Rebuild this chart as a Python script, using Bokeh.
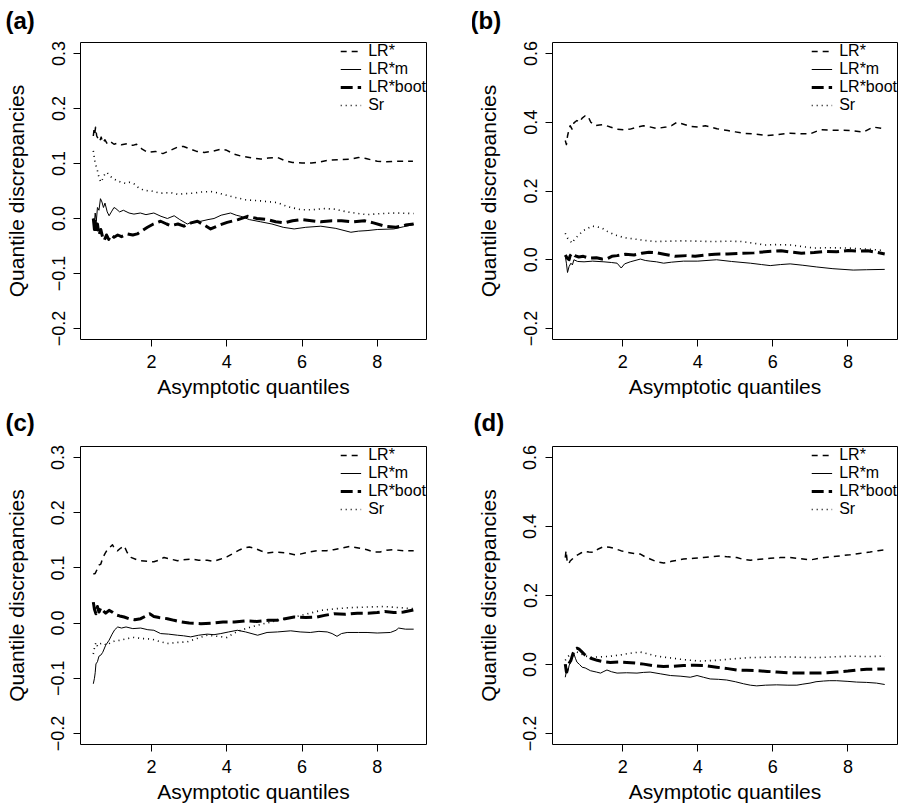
from bokeh.plotting import figure
from bokeh.models import FixedTicker, Legend, LegendItem, Range1d
from bokeh.layouts import column, row
from bokeh.embed import file_html
from bokeh.resources import INLINE

FONT = "Liberation Sans"

SERIES_NAMES = ["LR*", "LR*m", "LR*boot", "Sr"]
X_TICKS = [2, 4, 6, 8]
X_LABEL = "Asymptotic quantiles"
Y_LABEL = "Quantile discrepancies"
PANEL_LETTERS = ["(a)", "(b)", "(c)", "(d)"]

Y_TICKS_AC = [-0.2, -0.1, 0.0, 0.1, 0.2, 0.3]
Y_TICKLABELS_AC = ["\u22120.2", "\u22120.1", "0.0", "0.1", "0.2", "0.3"]
Y_LIM_AC = (-0.2, 0.3)
Y_TICKS_BD = [-0.2, 0.0, 0.2, 0.4, 0.6]
Y_TICKLABELS_BD = ["\u22120.2", "0.0", "0.2", "0.4", "0.6"]
Y_LIM_BD = (-0.2, 0.6)

# ---- panel (a) ----
A_LRSTAR = [(0.45,0.150),(0.47,0.162),(0.49,0.155),(0.51,0.166),(0.54,0.150),(0.58,0.145),(0.62,0.140),(0.66,0.148),(0.70,0.138),(0.76,0.143),(0.82,0.136),(0.90,0.140),(1.00,0.135),(1.10,0.137),(1.20,0.134),(1.35,0.136),(1.50,0.133),(1.60,0.135),(1.75,0.126),(1.90,0.120),(2.10,0.122),(2.30,0.118),(2.50,0.124),(2.70,0.130),(2.85,0.131),(3.00,0.127),(3.20,0.122),(3.40,0.120),(3.60,0.122),(3.85,0.126),(4.00,0.124),(4.20,0.117),(4.40,0.113),(4.60,0.111),(4.90,0.108),(5.10,0.110),(5.35,0.111),(5.55,0.105),(5.75,0.102),(6.00,0.101),(6.25,0.101),(6.50,0.103),(6.70,0.106),(7.00,0.107),(7.30,0.108),(7.50,0.111),(7.70,0.109),(8.00,0.104),(8.20,0.103),(8.50,0.104),(8.80,0.104),(8.95,0.104)]
A_LRM = [(0.45,0.000),(0.47,-0.015),(0.50,0.010),(0.53,-0.005),(0.56,0.020),(0.60,0.015),(0.64,0.036),(0.68,0.030),(0.72,0.020),(0.76,0.028),(0.82,0.012),(0.87,0.005),(0.93,0.012),(1.00,0.020),(1.05,0.018),(1.15,0.012),(1.25,0.015),(1.40,0.010),(1.53,0.008),(1.70,0.010),(1.85,0.007),(2.06,0.010),(2.25,0.004),(2.42,0.000),(2.60,0.005),(2.75,-0.002),(2.95,-0.010),(3.10,-0.006),(3.31,-0.005),(3.50,-0.002),(3.66,0.000),(3.85,0.006),(4.10,0.010),(4.25,0.006),(4.37,0.004),(4.60,-0.002),(4.90,-0.006),(5.20,-0.010),(5.50,-0.016),(5.79,-0.019),(6.10,-0.016),(6.50,-0.014),(6.90,-0.018),(7.30,-0.025),(7.50,-0.023),(7.73,-0.022),(8.00,-0.020),(8.44,-0.019),(8.70,-0.015),(8.97,-0.011)]
A_LRBOOT = [(0.45,0.000),(0.48,-0.020),(0.50,-0.005),(0.53,-0.025),(0.56,-0.010),(0.60,-0.030),(0.65,-0.020),(0.70,-0.035),(0.74,-0.040),(0.80,-0.030),(0.86,-0.038),(0.92,-0.030),(1.00,-0.034),(1.10,-0.030),(1.20,-0.033),(1.36,-0.028),(1.50,-0.030),(1.62,-0.028),(1.75,-0.022),(1.89,-0.016),(2.05,-0.010),(2.24,-0.005),(2.40,-0.010),(2.51,-0.013),(2.70,-0.010),(2.86,-0.014),(3.05,-0.008),(3.22,-0.005),(3.40,-0.012),(3.57,-0.019),(3.80,-0.012),(4.01,-0.007),(4.30,-0.002),(4.55,0.004),(4.80,0.000),(5.08,-0.002),(5.30,-0.006),(5.52,-0.008),(5.75,-0.004),(5.97,-0.002),(6.25,-0.004),(6.50,-0.006),(6.80,-0.004),(7.05,-0.004),(7.35,-0.006),(7.66,-0.004),(7.90,-0.008),(8.20,-0.014),(8.50,-0.016),(8.75,-0.012),(8.97,-0.010)]
A_SR = [(0.45,0.123),(0.50,0.100),(0.55,0.090),(0.60,0.075),(0.65,0.066),(0.70,0.072),(0.75,0.080),(0.81,0.084),(0.88,0.078),(0.95,0.074),(1.05,0.070),(1.18,0.066),(1.30,0.064),(1.40,0.066),(1.53,0.063),(1.65,0.056),(1.80,0.051),(2.00,0.050),(2.24,0.046),(2.50,0.047),(2.70,0.044),(2.85,0.045),(3.10,0.046),(3.30,0.048),(3.57,0.049),(3.80,0.046),(4.00,0.042),(4.18,0.039),(4.50,0.034),(4.90,0.032),(5.34,0.029),(5.60,0.022),(5.96,0.016),(6.30,0.016),(6.60,0.018),(6.85,0.017),(7.20,0.012),(7.50,0.009),(7.73,0.007),(8.10,0.009),(8.50,0.010),(8.97,0.009)]

# ---- panel (b) ----
B_LRSTAR = [(0.47,0.347),(0.50,0.335),(0.53,0.360),(0.56,0.375),(0.60,0.390),(0.65,0.380),(0.70,0.398),(0.78,0.405),(0.85,0.400),(0.92,0.412),(1.00,0.419),(1.05,0.420),(1.09,0.414),(1.15,0.400),(1.27,0.390),(1.38,0.392),(1.49,0.393),(1.67,0.386),(1.85,0.380),(2.02,0.378),(2.20,0.380),(2.40,0.386),(2.55,0.390),(2.70,0.387),(2.91,0.382),(3.15,0.386),(3.30,0.390),(3.44,0.400),(3.60,0.395),(3.80,0.388),(4.00,0.386),(4.20,0.390),(4.51,0.381),(4.80,0.376),(5.00,0.372),(5.22,0.368),(5.50,0.366),(5.84,0.361),(6.10,0.364),(6.46,0.368),(6.70,0.367),(6.99,0.366),(7.26,0.378),(7.60,0.377),(8.05,0.376),(8.41,0.371),(8.67,0.386),(8.98,0.381)]
B_LRM = [(0.47,0.010),(0.50,-0.010),(0.53,-0.037),(0.57,-0.020),(0.62,-0.010),(0.66,-0.015),(0.70,0.000),(0.80,-0.005),(0.97,-0.006),(1.20,-0.004),(1.50,-0.006),(1.70,-0.008),(1.85,-0.010),(1.96,-0.024),(2.05,-0.012),(2.20,-0.006),(2.47,0.002),(2.60,-0.002),(2.73,-0.004),(2.90,-0.006),(3.09,-0.010),(3.30,-0.007),(3.62,-0.004),(4.00,-0.004),(4.50,0.000),(4.90,-0.005),(5.40,-0.010),(5.70,-0.014),(5.93,-0.017),(6.20,-0.014),(6.46,-0.012),(6.80,-0.016),(7.17,-0.021),(7.60,-0.026),(8.14,-0.030),(8.50,-0.029),(8.98,-0.028)]
B_LRBOOT = [(0.47,0.014),(0.52,0.005),(0.57,0.000),(0.60,0.012),(0.65,0.019),(0.72,0.012),(0.83,0.008),(0.95,0.010),(1.10,0.005),(1.30,0.006),(1.45,0.002),(1.60,0.004),(1.71,0.010),(1.85,0.012),(2.07,0.016),(2.30,0.014),(2.51,0.019),(2.70,0.022),(2.86,0.021),(3.10,0.016),(3.40,0.010),(3.70,0.012),(3.93,0.010),(4.20,0.014),(4.46,0.016),(4.80,0.017),(5.16,0.019),(5.50,0.020),(5.87,0.024),(6.22,0.026),(6.50,0.022),(6.76,0.019),(7.10,0.021),(7.38,0.024),(7.70,0.023),(8.00,0.027),(8.30,0.025),(8.53,0.026),(8.75,0.022),(8.98,0.017)]
B_SR = [(0.47,0.077),(0.53,0.063),(0.60,0.055),(0.65,0.048),(0.72,0.060),(0.83,0.072),(0.95,0.085),(1.05,0.090),(1.18,0.098),(1.30,0.096),(1.45,0.092),(1.60,0.082),(1.80,0.072),(2.05,0.064),(2.33,0.060),(2.60,0.056),(2.86,0.053),(3.20,0.054),(3.57,0.055),(4.00,0.054),(4.45,0.053),(4.80,0.054),(5.16,0.053),(5.50,0.048),(5.78,0.043),(6.10,0.044),(6.49,0.043),(6.80,0.038),(7.11,0.034),(7.50,0.035),(8.00,0.034),(8.50,0.031),(8.97,0.027)]

# ---- panel (c) ----
C_LRSTAR = [(0.45,0.089),(0.50,0.090),(0.55,0.097),(0.60,0.105),(0.65,0.107),(0.70,0.118),(0.76,0.126),(0.83,0.134),(0.90,0.138),(0.96,0.142),(1.02,0.134),(1.09,0.131),(1.18,0.136),(1.27,0.140),(1.35,0.128),(1.45,0.119),(1.60,0.115),(1.71,0.113),(1.90,0.112),(2.06,0.111),(2.20,0.114),(2.33,0.119),(2.50,0.116),(2.69,0.113),(2.85,0.115),(3.04,0.116),(3.25,0.114),(3.48,0.114),(3.65,0.112),(3.84,0.116),(4.00,0.120),(4.19,0.127),(4.35,0.133),(4.46,0.136),(4.60,0.138),(4.72,0.136),(4.90,0.131),(5.07,0.127),(5.30,0.129),(5.60,0.127),(5.80,0.124),(5.95,0.125),(6.20,0.129),(6.40,0.131),(6.65,0.131),(6.84,0.133),(7.05,0.136),(7.28,0.139),(7.50,0.136),(7.73,0.133),(7.90,0.129),(8.08,0.129),(8.25,0.132),(8.43,0.133),(8.70,0.131),(8.97,0.131)]
C_LRM = [(0.45,-0.110),(0.48,-0.100),(0.50,-0.090),(0.52,-0.074),(0.56,-0.070),(0.60,-0.060),(0.65,-0.058),(0.70,-0.053),(0.78,-0.040),(0.87,-0.031),(0.95,-0.020),(1.02,-0.012),(1.10,-0.007),(1.20,-0.009),(1.32,-0.007),(1.50,-0.010),(1.71,-0.009),(1.90,-0.012),(2.06,-0.013),(2.24,-0.019),(2.45,-0.020),(2.69,-0.022),(2.85,-0.023),(3.04,-0.025),(3.25,-0.022),(3.48,-0.020),(3.66,-0.021),(3.84,-0.019),(4.05,-0.016),(4.28,-0.013),(4.50,-0.016),(4.82,-0.022),(5.07,-0.017),(5.35,-0.016),(5.70,-0.014),(5.95,-0.016),(6.22,-0.017),(6.45,-0.015),(6.67,-0.016),(6.80,-0.019),(6.93,-0.024),(7.05,-0.019),(7.20,-0.017),(7.50,-0.017),(7.73,-0.017),(8.00,-0.018),(8.35,-0.017),(8.50,-0.013),(8.57,-0.009),(8.75,-0.011),(8.97,-0.011)]
C_LRBOOT = [(0.45,0.038),(0.48,0.025),(0.52,0.017),(0.56,0.030),(0.60,0.020),(0.65,0.028),(0.70,0.023),(0.78,0.018),(0.87,0.023),(0.95,0.020),(1.05,0.015),(1.15,0.013),(1.27,0.011),(1.40,0.008),(1.55,0.006),(1.71,0.008),(1.85,0.013),(1.95,0.017),(2.06,0.012),(2.20,0.010),(2.42,0.008),(2.60,0.005),(2.80,0.002),(3.00,0.000),(3.31,-0.001),(3.60,0.000),(3.90,0.002),(4.20,0.002),(4.50,0.004),(4.80,0.003),(5.10,0.005),(5.34,0.005),(5.55,0.008),(5.79,0.011),(6.10,0.010),(6.40,0.011),(6.60,0.014),(6.85,0.017),(7.15,0.016),(7.47,0.018),(7.75,0.018),(8.00,0.019),(8.20,0.021),(8.44,0.019),(8.70,0.020),(8.97,0.024)]
C_SR = [(0.45,-0.056),(0.48,-0.045),(0.52,-0.035),(0.56,-0.042),(0.60,-0.038),(0.70,-0.036),(0.80,-0.040),(0.90,-0.036),(1.00,-0.033),(1.18,-0.031),(1.35,-0.028),(1.53,-0.026),(1.75,-0.028),(2.00,-0.029),(2.20,-0.033),(2.42,-0.037),(2.70,-0.035),(2.95,-0.034),(3.20,-0.028),(3.48,-0.022),(3.75,-0.024),(4.00,-0.026),(4.20,-0.018),(4.37,-0.013),(4.60,-0.008),(4.82,-0.004),(5.05,0.000),(5.30,0.004),(5.55,0.008),(5.79,0.011),(6.10,0.016),(6.50,0.023),(6.90,0.026),(7.28,0.028),(7.70,0.029),(8.17,0.030),(8.60,0.028),(8.97,0.026)]

# ---- panel (d) ----
D_LRSTAR = [(0.47,0.310),(0.49,0.330),(0.52,0.300),(0.56,0.291),(0.60,0.300),(0.65,0.305),(0.70,0.310),(0.80,0.318),(0.90,0.324),(0.97,0.328),(1.10,0.326),(1.23,0.325),(1.35,0.335),(1.50,0.342),(1.65,0.340),(1.76,0.337),(1.95,0.330),(2.12,0.325),(2.30,0.322),(2.47,0.320),(2.60,0.312),(2.73,0.306),(2.90,0.298),(3.09,0.294),(3.30,0.299),(3.62,0.306),(3.90,0.308),(4.15,0.310),(4.40,0.313),(4.60,0.315),(4.80,0.312),(5.04,0.310),(5.20,0.305),(5.40,0.302),(5.65,0.305),(5.93,0.308),(6.20,0.310),(6.46,0.310),(6.70,0.307),(6.99,0.303),(7.25,0.308),(7.52,0.312),(7.80,0.315),(8.05,0.318),(8.30,0.322),(8.59,0.326),(8.80,0.330),(8.98,0.332)]
D_LRM = [(0.47,-0.037),(0.50,-0.020),(0.53,-0.025),(0.57,-0.004),(0.62,0.010),(0.66,0.020),(0.70,0.031),(0.74,0.018),(0.78,0.007),(0.85,0.000),(0.92,-0.008),(1.00,-0.010),(1.14,-0.018),(1.30,-0.022),(1.41,-0.025),(1.50,-0.020),(1.58,-0.016),(1.70,-0.021),(1.85,-0.025),(2.10,-0.024),(2.38,-0.025),(2.55,-0.023),(2.73,-0.022),(3.00,-0.027),(3.27,-0.032),(3.55,-0.034),(3.80,-0.037),(3.98,-0.032),(4.15,-0.037),(4.33,-0.042),(4.55,-0.043),(4.77,-0.045),(5.00,-0.050),(5.22,-0.056),(5.40,-0.060),(5.57,-0.062),(5.80,-0.060),(6.10,-0.059),(6.40,-0.060),(6.64,-0.060),(6.80,-0.057),(6.99,-0.054),(7.15,-0.050),(7.35,-0.048),(7.50,-0.047),(7.70,-0.047),(8.00,-0.049),(8.23,-0.051),(8.50,-0.052),(8.76,-0.054),(8.98,-0.058)]
D_LRBOOT = [(0.47,0.001),(0.50,-0.022),(0.54,-0.005),(0.58,0.005),(0.62,0.012),(0.67,0.030),(0.73,0.045),(0.78,0.047),(0.83,0.045),(0.90,0.038),(0.97,0.030),(1.05,0.024),(1.15,0.018),(1.32,0.012),(1.50,0.008),(1.67,0.006),(1.90,0.007),(2.11,0.006),(2.35,0.004),(2.56,0.001),(2.80,-0.003),(3.09,-0.006),(3.35,-0.005),(3.62,-0.003),(3.90,-0.002),(4.15,-0.003),(4.50,-0.008),(4.80,-0.012),(5.04,-0.016),(5.30,-0.017),(5.57,-0.018),(5.85,-0.020),(6.10,-0.022),(6.40,-0.024),(6.64,-0.025),(6.90,-0.025),(7.17,-0.025),(7.45,-0.024),(7.70,-0.022),(8.00,-0.019),(8.23,-0.016),(8.50,-0.014),(8.85,-0.013),(8.98,-0.013)]
D_SR = [(0.47,0.012),(0.52,0.020),(0.57,0.026),(0.62,0.031),(0.70,0.034),(0.78,0.036),(0.90,0.030),(1.00,0.025),(1.14,0.021),(1.40,0.022),(1.67,0.024),(1.90,0.027),(2.11,0.031),(2.30,0.034),(2.47,0.036),(2.70,0.030),(2.91,0.024),(3.20,0.020),(3.62,0.014),(4.06,0.010),(4.50,0.012),(4.90,0.016),(5.39,0.020),(5.80,0.021),(6.28,0.022),(6.70,0.021),(7.17,0.020),(7.60,0.022),(8.05,0.024),(8.50,0.023),(8.98,0.024)]

STYLES = [
    dict(line_width=1.5, line_dash="6 5"),
    dict(line_width=1.0, line_dash="solid"),
    dict(line_width=3.0, line_dash="12 5"),
    dict(line_width=1.6, line_dash="1 4"),
]


def pad(lo, hi, f=0.04):
    d = hi - lo
    return lo - f * d, hi + f * d


def make_panel(letter, series, yticks, ylabels, ylim, width, height,
               bl, br, bt, bb, title_standoff, title_offset):
    allx = [pt[0] for s in series for pt in s]
    x0, x1 = pad(min(allx), max(allx))
    y0, y1 = pad(*ylim)
    p = figure(width=width, height=height, output_backend="svg",
               toolbar_location=None, x_range=Range1d(x0, x1),
               y_range=Range1d(y0, y1),
               min_border_left=bl, min_border_right=br,
               min_border_top=bt, min_border_bottom=bb)
    p.background_fill_color = "white"
    p.border_fill_color = "white"
    p.outline_line_color = "black"
    p.outline_line_width = 1
    p.outline_line_alpha = 1
    p.xgrid.visible = False
    p.ygrid.visible = False

    p.title.text = letter
    p.title.align = "left"
    p.title.vertical_align = "top"
    p.title.offset = title_offset
    p.title.text_font = FONT
    p.title.text_font_size = "24px"
    p.title.text_font_style = "bold"
    p.title.text_color = "black"
    p.title.standoff = title_standoff

    for ax in (p.xaxis[0], p.yaxis[0]):
        ax.axis_line_color = None
        ax.major_tick_in = 0
        ax.major_tick_out = 7
        ax.major_tick_line_color = "black"
        ax.minor_tick_line_color = None
        ax.major_label_text_font = FONT
        ax.major_label_text_font_size = "18px"
        ax.major_label_text_color = "black"
        ax.axis_label_text_font = FONT
        ax.axis_label_text_font_size = "21px"
        ax.axis_label_text_font_style = "normal"
        ax.axis_label_text_color = "black"

    p.xaxis.ticker = FixedTicker(ticks=X_TICKS)
    p.xaxis.axis_label = X_LABEL
    p.xaxis.major_label_standoff = 8
    p.xaxis.axis_label_standoff = 4

    p.yaxis.ticker = FixedTicker(ticks=yticks)
    p.yaxis.major_label_overrides = {t: l for t, l in zip(yticks, ylabels)}
    p.yaxis.major_label_orientation = "vertical"
    p.yaxis.major_label_standoff = 9
    p.yaxis.axis_label = Y_LABEL
    p.yaxis.axis_label_standoff = 21

    items = []
    for name, pts, st in zip(SERIES_NAMES, series, STYLES):
        r = p.line([q[0] for q in pts], [q[1] for q in pts], color="black",
                   line_join="round", **st)
        items.append(LegendItem(label=name, renderers=[r]))
    leg = Legend(items=items, location="top_right")
    leg.border_line_color = None
    leg.background_fill_alpha = 0
    leg.margin = 0
    leg.padding = 4
    leg.spacing = 0
    leg.glyph_width = 21
    leg.glyph_height = 14
    leg.label_height = 14
    leg.label_standoff = 7
    leg.label_text_font = FONT
    leg.label_text_font_size = "16px"
    leg.label_text_color = "black"
    p.add_layout(leg, "center")
    return p


pa = make_panel(PANEL_LETTERS[0], [A_LRSTAR, A_LRM, A_LRBOOT, A_SR],
                Y_TICKS_AC, Y_TICKLABELS_AC, Y_LIM_AC, 472, 400, 80, 46, 42, 58, 13, -75)
pb = make_panel(PANEL_LETTERS[1], [B_LRSTAR, B_LRM, B_LRBOOT, B_SR],
                Y_TICKS_BD, Y_TICKLABELS_BD, Y_LIM_BD, 427, 400, 80, 2, 42, 58, 13, -82)
pc = make_panel(PANEL_LETTERS[2], [C_LRSTAR, C_LRM, C_LRBOOT, C_SR],
                Y_TICKS_AC, Y_TICKLABELS_AC, Y_LIM_AC, 472, 406, 80, 46, 46, 62, 17, -75)
pd = make_panel(PANEL_LETTERS[3], [D_LRSTAR, D_LRM, D_LRBOOT, D_SR],
                Y_TICKS_BD, Y_TICKLABELS_BD, Y_LIM_BD, 427, 406, 80, 2, 46, 62, 17, -79)

layout = column(row(pa, pb), row(pc, pd))
open("out.html", "w").write(file_html(layout, INLINE))
